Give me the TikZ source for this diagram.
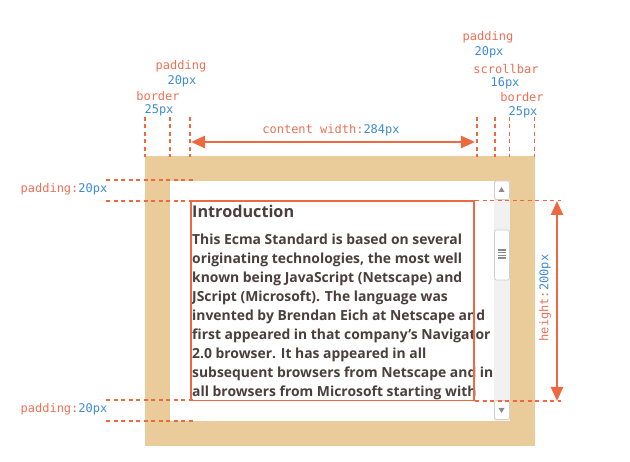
\documentclass[tikz,border=0pt]{standalone}
\usepackage{fontspec}
\usetikzlibrary{arrows.meta}
\newfontfamily\monofont{DejaVu Sans Mono}
\newfontfamily\bodyfont{Open Sans}
\definecolor{tanborder}{HTML}{EACB9A}
\definecolor{accent}{HTML}{EE6840}
\definecolor{lblcol}{HTML}{EF6F55}
\definecolor{valcol}{HTML}{3F8BD3}
\definecolor{txtcol}{HTML}{4B3E3E}
\definecolor{sbtrack}{HTML}{F1F1F1}
\definecolor{sbedge}{HTML}{CFCFCF}
\definecolor{sbarrow}{HTML}{8A8A8A}
\tikzset{
  guide/.style={draw=accent, line width=1.8pt, dash pattern=on 4pt off 3.5pt},
  dimarrow/.style={draw=accent, line width=2.4pt, {Triangle[length=14pt,width=12pt]}-{Triangle[length=14pt,width=12pt]}},
  lbl/.style={font=\monofont\fontsize{12}{14}\selectfont, inner sep=0pt, align=center},
  bodytext/.style={anchor=base west, inner sep=0pt, text=txtcol, font=\bodyfont\bfseries\fontsize{13.9}{19}\selectfont},
  sbbutton/.style={draw=sbedge, fill=white, rounded corners=2pt, line width=0.8pt},
}
\newcommand{\lab}[2]{\textcolor{lblcol}{#1}\textcolor{valcol}{#2}}
\begin{document}
\begin{tikzpicture}[x=1pt,y=-1pt]
\useasboundingbox (0,0) rectangle (630,462);
% border box
\fill[tanborder] (145,156) rectangle (535,446);
\fill[white] (170,181) rectangle (510,421);
% scrollbar
\fill[sbtrack] (494,181) rectangle (510,421);
\draw[sbbutton] (494.5,181) rectangle (509.5,199.5);
\fill[sbarrow] (498.5,192) -- (504.5,192) -- (501.5,187) -- cycle;
\draw[sbbutton] (494.5,400.5) rectangle (509.5,419.5);
\fill[sbarrow] (498.5,408) -- (504.5,408) -- (501.5,413) -- cycle;
\draw[sbbutton] (494.5,230) rectangle (509.5,280);
\foreach \yy in {250,252.7,255.4,258.1}
  \draw[sbarrow, line width=1.3pt] (498,\yy) -- (506,\yy);
% content text
\node[anchor=base west, inner sep=0pt, text=txtcol, font=\bodyfont\bfseries\fontsize{16.2}{20}\selectfont] (head) at (192,217.5) {Introduction};
\foreach \t [count=\i] in {
  This Ecma Standard is based on several,
  {originating technologies, the most well},
  known being JavaScript (Netscape) and,
  JScript (Microsoft). The language was,
  invented by Brendan Eich at Netscape and,
  first appeared in that company’s Navigator,
  2.0 browser. It has appeared in all,
  subsequent browsers from Netscape and in,
  all browsers from Microsoft starting with}
  \node[bodytext] (line\i) at (192,226+19*\i) {\t};
% content box
\draw[accent, line width=1.8pt] (191,201) rectangle (474,400.5);
% vertical guides at top
\foreach \xx/\nm in {145/ga,170/gb,190/gc,477/gd,495/ge,509.5/gf,534.5/gg} {
  \coordinate (\nm t) at (\xx,117);
  \coordinate (\nm b) at (\xx,157);
  \draw[guide] (\nm t) -- (\nm b);
}
% horizontal guides left
\foreach \yy/\nm in {180/ha,201/hb,400/hc,421/hd} {
  \coordinate (\nm l) at (106,\yy);
  \coordinate (\nm r) at (193,\yy);
  \draw[guide] (\nm l) -- (\nm r);
}
% horizontal guides right
\foreach \yy/\nm in {200.5/ra,401/rb} {
  \coordinate (\nm l) at (475,\yy);
  \coordinate (\nm r) at (561,\yy);
  \draw[guide] (\nm l) -- (\nm r);
}
% dimension arrows
\coordinate (cwl) at (191,142);
\coordinate (cwr) at (475,142);
\draw[dimarrow] (cwl) -- (cwr);
\coordinate (ht) at (557,201);
\coordinate (hb) at (557,401);
\draw[dimarrow] (ht) -- (hb);
% labels
\node[lbl] (cw) at (331,130) {\lab{content width:}{284px}};
\node[lbl] (hgt) at (545,298) [rotate=90] {\lab{height:}{200px}};
\node[lbl] (padl1) at (64,189) {\lab{padding:}{20px}};
\node[lbl] (padl2) at (64,409) {\lab{padding:}{20px}};
\node[lbl] (tlp) at (181,66) {\textcolor{lblcol}{padding}};
\node[lbl] (tlpv) at (182,81) {\textcolor{valcol}{20px}};
\node[lbl] (tlb) at (158,96) {\textcolor{lblcol}{border}};
\node[lbl] (tlbv) at (159,110) {\textcolor{valcol}{25px}};
\node[lbl] (trp) at (488,37) {\textcolor{lblcol}{padding}};
\node[lbl] (trpv) at (489,52) {\textcolor{valcol}{20px}};
\node[lbl] (trs) at (506,69) {\textcolor{lblcol}{scrollbar}};
\node[lbl] (trsv) at (505,83) {\textcolor{valcol}{16px}};
\node[lbl] (trb) at (522,97) {\textcolor{lblcol}{border}};
\node[lbl] (trbv) at (523,112) {\textcolor{valcol}{25px}};
\end{tikzpicture}
\end{document}
